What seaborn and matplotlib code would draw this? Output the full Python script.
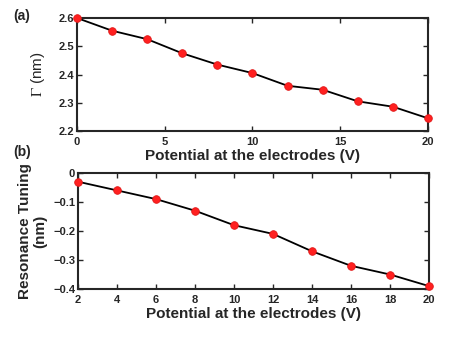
import numpy as np
import pandas as pd
import matplotlib
matplotlib.use("Agg")
import matplotlib.pyplot as plt
import seaborn as sns

# ── Data ──────────────────────────────────────────────────────────────────
voltage_a = [0, 2, 4, 6, 8, 10, 12, 14, 16, 18, 20]
gamma_nm = [2.600, 2.555, 2.525, 2.475, 2.435, 2.405, 2.360, 2.346, 2.305, 2.286, 2.245]

voltage_b = [2, 4, 6, 8, 10, 12, 14, 16, 18, 20]
tuning_nm = [-0.03, -0.06, -0.09, -0.13, -0.18, -0.21, -0.27, -0.32, -0.35, -0.39]

xticks_a = [0, 5, 10, 15, 20]
yticks_a = [2.2, 2.3, 2.4, 2.5, 2.6]
xticks_b = [2, 4, 6, 8, 10, 12, 14, 16, 18, 20]
yticks_b = [0, -0.1, -0.2, -0.3, -0.4]

sns.set_theme(style="ticks")
plt.rcParams["font.family"] = ["Liberation Sans", "DejaVu Sans"]
plt.rcParams["mathtext.fontset"] = "stix"

df_a = pd.DataFrame({"V": voltage_a, "y": gamma_nm})
df_b = pd.DataFrame({"V": voltage_b, "y": tuning_nm})

fig = plt.figure(figsize=(4.52, 3.41), dpi=100)
ax_a = fig.add_axes([77 / 452, 1 - 131 / 341, 351 / 452, 113 / 341])
ax_b = fig.add_axes([78 / 452, 1 - 289 / 341, 351 / 452, 116 / 341])


def draw(ax, df, xticks, yticks, xlim, ylim):
    sns.lineplot(data=df, x="V", y="y", ax=ax, color="black", lw=1.3)
    sns.scatterplot(data=df, x="V", y="y", ax=ax, color="#ff2020",
                    edgecolor="#e01818", s=30, linewidth=0.6, zorder=3,
                    clip_on=False)
    ax.set_xlim(*xlim)
    ax.set_ylim(*ylim)
    ax.set_xticks(xticks)
    ax.set_yticks(yticks)
    ax.tick_params(direction="in", top=True, right=True, length=3.5,
                   width=1, labelsize=8)
    ax.tick_params(axis="x", pad=4)
    ax.tick_params(axis="y", pad=2)
    for sp in ax.spines.values():
        sp.set_linewidth(1.5)
        sp.set_visible(True)
    ax.set_xlabel("Potential at the electrodes (V)", fontsize=11,
                  fontweight="bold", labelpad=2)


draw(ax_a, df_a, xticks_a, yticks_a, (0, 20), (2.2, 2.6))
ax_a.set_yticklabels(["2.2", "2.3", "2.4", "2.5", "2.6"])
ax_a.set_ylabel(r"$\Gamma$ (nm)", fontsize=11, labelpad=8)

draw(ax_b, df_b, xticks_b, yticks_b, (2, 20), (-0.4, 0))
ax_b.set_yticklabels(["0", "\u22120.1", "\u22120.2", "\u22120.3", "\u22120.4"])
ax_b.set_ylabel("Resonance Tuning\n(nm)", fontsize=11, fontweight="bold",
                labelpad=4, linespacing=1.1)

for ax in (ax_a, ax_b):
    for lab in ax.get_xticklabels() + ax.get_yticklabels():
        lab.set_fontweight("bold")

fig.text(13 / 452, 1 - 16 / 341, "(a)", fontsize=10, fontweight="bold",
         va="center")
fig.text(13 / 452, 1 - 152 / 341, "(b)", fontsize=10, fontweight="bold",
         va="center")

fig.savefig("out.png", dpi=100)
plt.close(fig)
